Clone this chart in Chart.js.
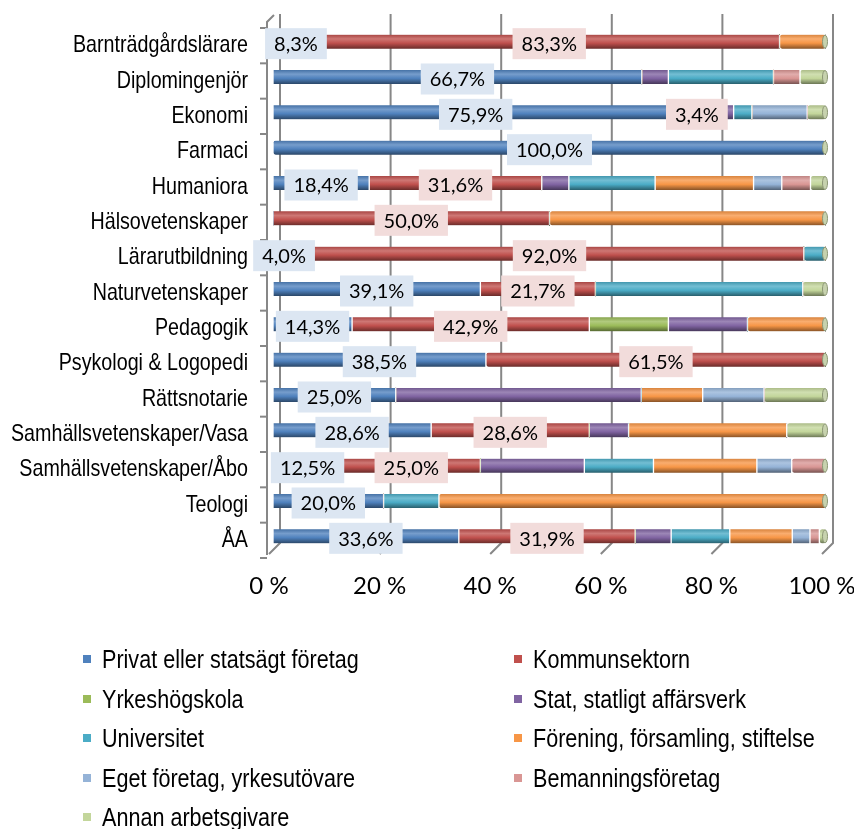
<!DOCTYPE html>
<html>
<head>
<meta charset="utf-8">
<script src="https://cdn.jsdelivr.net/npm/chart.js@4.4.1/dist/chart.umd.min.js"></script>
<style>
  body { margin: 0; background: #fff; }
  #wrap { position: relative; width: 854px; height: 829px; }
  #legend { position: absolute; left: 0; top: 0; width: 854px; height: 829px; pointer-events: none;
    font-family: 'Liberation Sans', Arial, sans-serif; font-size: 26px; color: #000; }
  .li { position: absolute; white-space: nowrap; line-height: 30px; }
  .li .sq { position: absolute; width: 8px; height: 8px; left: -19px; top: 11px; }
  .li .tx { display: inline-block; transform: scaleX(0.83); transform-origin: 0 50%; }
</style>
</head>
<body>
<div id="wrap">
  <canvas id="chart" width="854" height="829"></canvas>
  <div id="legend"></div>
</div>
<script>
const categories = ["Barnträdgårdslärare", "Diplomingenjör", "Ekonomi", "Farmaci", "Humaniora",
  "Hälsovetenskaper", "Lärarutbildning", "Naturvetenskaper", "Pedagogik", "Psykologi & Logopedi",
  "Rättsnotarie", "Samhällsvetenskaper/Vasa", "Samhällsvetenskaper/Åbo", "Teologi", "ÅA"];

const seriesNames = ["Privat eller statsägt företag", "Kommunsektorn", "Yrkeshögskola",
  "Stat, statligt affärsverk", "Universitet", "Förening, församling, stiftelse",
  "Eget företag, yrkesutövare", "Bemanningsföretag", "Annan arbetsgivare"];

// segment lengths as drawn (share of each row, %)
const privat     = [8.3, 66.7, 73.3, 100, 17.4, 0, 4.0, 37.5, 14.3, 38.5, 22.2, 28.6, 12.5, 20.0, 33.6];
const kommun     = [83.3, 0, 6.7, 0, 31.2, 50.0, 92.0, 20.8, 42.9, 61.5, 0, 28.6, 25.0, 0, 31.9];
const yrkes      = [0, 0, 0, 0, 0, 0, 0, 0, 14.3, 0, 0, 0, 0, 0, 0];
const stat       = [0, 4.8, 3.3, 0, 4.9, 0, 0, 0, 14.3, 0, 44.4, 7.1, 18.8, 0, 6.5];
const universitet= [0, 19.0, 3.3, 0, 15.6, 0, 4.0, 37.5, 0, 0, 0, 0, 12.5, 10.0, 10.6];
const forening   = [8.4, 0, 0, 0, 17.8, 50.0, 0, 0, 14.2, 0, 11.1, 28.6, 18.7, 70.0, 11.3];
const eget       = [0, 0, 10.0, 0, 5.1, 0, 0, 0, 0, 0, 11.1, 0, 6.3, 0, 3.2];
const bemanning  = [0, 4.8, 0, 0, 5.2, 0, 0, 0, 0, 0, 0, 0, 6.2, 0, 1.7];
const annan      = [0, 4.7, 3.4, 0, 2.8, 0, 0, 4.2, 0, 0, 11.2, 7.1, 0, 0, 1.2];

// data label texts printed on the first two series
const privatShown = [8.3, 66.7, 75.9, 100.0, 18.4, null, 4.0, 39.1, 14.3, 38.5, 25.0, 28.6, 12.5, 20.0, 33.6];
const kommunShown = [83.3, null, 3.4, null, 31.6, 50.0, 92.0, 21.7, 42.9, 61.5, null, 28.6, 25.0, null, 31.9];

const xTicks = [0, 20, 40, 60, 80, 100];

const colors = ["#4F81BD", "#C0504D", "#9BBB59", "#8064A2", "#4BACC6", "#F79646", "#95B3D7", "#D99694", "#C3D69B"];
const labelBg = ["#DCE6F2", "#F2DCDB"];

const allSeries = [privat, kommun, yrkes, stat, universitet, forening, eget, bemanning, annan];
const shown = [privatShown, kommunShown];

function shade(hex, f) {
  // f > 0 lightens, f < 0 darkens
  const n = parseInt(hex.slice(1), 16);
  let r = n >> 16, g = (n >> 8) & 255, b = n & 255;
  if (f >= 0) { r += (255 - r) * f; g += (255 - g) * f; b += (255 - b) * f; }
  else { r *= 1 + f; g *= 1 + f; b *= 1 + f; }
  return `rgb(${Math.round(r)},${Math.round(g)},${Math.round(b)})`;
}

function cylinder(base) {
  return function (context) {
    const chart = context.chart;
    const ys = chart.scales.y;
    if (!chart.chartArea || !ys || context.dataIndex === undefined) return base;
    const yc = ys.getPixelForValue(context.dataIndex);
    const g = chart.ctx.createLinearGradient(0, yc - 7, 0, yc + 7);
    g.addColorStop(0, shade(base, -0.12));
    g.addColorStop(0.3, shade(base, 0.22));
    g.addColorStop(0.6, base);
    g.addColorStop(1, shade(base, -0.45));
    return g;
  };
}

const datasets = allSeries.map((data, i) => ({
  label: seriesNames[i],
  data: data,
  backgroundColor: cylinder(colors[i]),
  borderColor: "#ffffff",
  borderWidth: { left: 1, right: 1, top: 0, bottom: 0 },
  borderSkipped: false,
  borderRadius: 3,
  barThickness: 14
}));

// 3D walls + gridlines
const wallPlugin = {
  id: "walls",
  beforeDatasetsDraw(chart) {
    const { ctx, chartArea, scales } = chart;
    const x = scales.x;
    ctx.save();
    ctx.strokeStyle = "#878787";
    ctx.lineWidth = 2;
    xTicks.forEach(v => {
      const xv = x.getPixelForValue(v);
      ctx.beginPath();
      ctx.moveTo(xv + 7, chartArea.top - 10);
      ctx.lineTo(xv + 7, chartArea.bottom - 11);
      ctx.lineTo(xv - 4, chartArea.bottom);
      ctx.stroke();
    });
    const lx = x.getPixelForValue(0) - 6;
    ctx.beginPath();
    ctx.moveTo(lx + 7, chartArea.top - 9);
    ctx.lineTo(lx, chartArea.top - 2);
    ctx.lineTo(lx, chartArea.bottom + 1);
    ctx.stroke();
    const step = (chartArea.bottom - chartArea.top) / categories.length;
    for (let i = 0; i <= categories.length; i++) {
      const ty = chartArea.top + i * step + 4;
      ctx.beginPath();
      ctx.moveTo(lx - 7, ty);
      ctx.lineTo(lx, ty);
      ctx.stroke();
    }
    ctx.restore();
  }
};

// category names, narrowed like Arial Narrow
const catPlugin = {
  id: "catLabels",
  afterDraw(chart) {
    const ctx = chart.ctx, y = chart.scales.y;
    ctx.save();
    ctx.font = "24px 'Liberation Sans', Arial, sans-serif";
    ctx.fillStyle = "#000";
    ctx.textAlign = "right";
    ctx.textBaseline = "middle";
    chart.data.labels.forEach((lab, i) => {
      ctx.save();
      ctx.translate(248, y.getPixelForValue(i) + 4);
      ctx.scale(0.82, 1);
      ctx.fillText(lab, 0, 0);
      ctx.restore();
    });
    ctx.restore();
  }
};

// cylinder end caps + value boxes
const labelPlugin = {
  id: "valueBoxes",
  afterDatasetsDraw(chart) {
    const ctx = chart.ctx, x = chart.scales.x, y = chart.scales.y;
    ctx.save();
    const xe = x.getPixelForValue(100);
    chart.data.labels.forEach((lab, i) => {
      ctx.beginPath();
      ctx.ellipse(xe - 1, y.getPixelForValue(i), 2.5, 6.5, 0, 0, Math.PI * 2);
      ctx.fillStyle = "#c7d2ae";
      ctx.fill();
      ctx.strokeStyle = "#8d9876";
      ctx.lineWidth = 1;
      ctx.stroke();
    });
    ctx.font = "20px Lato, 'Open Sans', sans-serif";
    ctx.textAlign = "center";
    ctx.textBaseline = "middle";
    [0, 1].forEach(di => {
      const meta = chart.getDatasetMeta(di);
      meta.data.forEach((el, i) => {
        const v = shown[di][i];
        if (v === null) return;
        const txt = v.toFixed(1).replace(".", ",") + "%";
        const cx = (el.x + el.base) / 2;
        const cy = el.y + 2;
        const w = ctx.measureText(txt).width + 18;
        const h = 31;
        ctx.fillStyle = labelBg[di];
        ctx.fillRect(cx - w / 2, cy - h / 2, w, h);
        ctx.fillStyle = "#000";
        ctx.fillText(txt, cx, cy + 1);
      });
    });
    ctx.restore();
  }
};

const chart = new Chart(document.getElementById("chart"), {
  type: "bar",
  data: { labels: categories, datasets: datasets },
  options: {
    indexAxis: "y",
    responsive: false,
    animation: false,
    devicePixelRatio: 1,
    layout: { padding: { left: 0, right: 28, top: 24, bottom: 0 } },
    plugins: { legend: { display: false }, tooltip: { enabled: false } },
    scales: {
      x: {
        stacked: true,
        min: 0,
        max: 100,
        afterBuildTicks: s => { s.ticks = xTicks.map(v => ({ value: v })); },
        afterFit: s => { s.height = 275; s.paddingLeft = 0; s.paddingRight = 0; },
        grid: { display: false, drawTicks: false },
        border: { display: false },
        ticks: {
          callback: v => v + " %",
          color: "#000",
          font: { family: "Lato, 'Open Sans', sans-serif", size: 24 },
          padding: 18,
          labelOffset: -4,
          maxRotation: 0
        }
      },
      y: {
        stacked: true,
        afterFit: s => { s.width = 273; s.paddingTop = 0; s.paddingBottom = 0; },
        grid: { display: false, drawTicks: false },
        border: { display: false },
        ticks: { display: false, autoSkip: false }
      }
    }
  },
  plugins: [wallPlugin, labelPlugin, catPlugin]
});

// two-column legend
const legend = document.getElementById("legend");
chart.data.datasets.forEach((ds, i) => {
  const col = i % 2, row = Math.floor(i / 2);
  const item = document.createElement("div");
  item.className = "li";
  item.style.left = (col === 0 ? 102 : 533) + "px";
  item.style.top = (644 + row * 39.5) + "px";
  item.innerHTML = `<span class="sq" style="background:${colors[i]}"></span><span class="tx">${ds.label}</span>`;
  legend.appendChild(item);
});
</script>
</body>
</html>
